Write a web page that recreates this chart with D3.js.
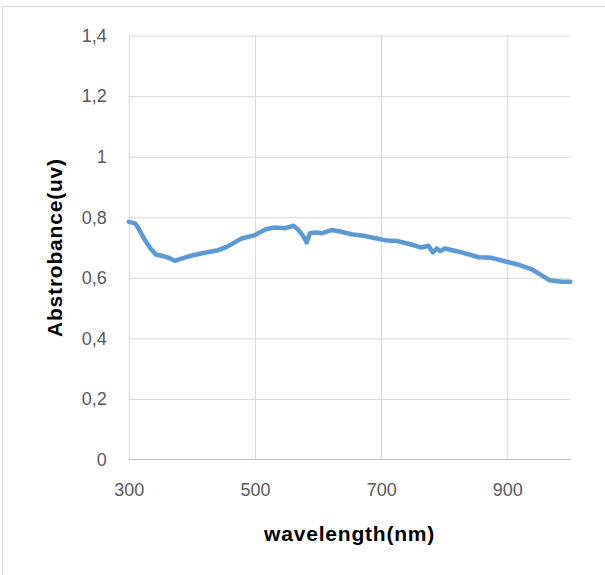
<!DOCTYPE html>
<html>
<head>
<meta charset="utf-8">
<script src="https://cdn.jsdelivr.net/npm/d3@7"></script>
<style>
  body { margin: 0; background: #fff; }
  text { font-family: "Liberation Sans", Arial, sans-serif; }
</style>
</head>
<body>
<div id="container"></div>
<script>
// spectrum
let wavelength = [300, 310, 315, 320, 327, 335, 343, 354, 365, 373, 381, 397, 418, 440, 456, 472,
  479, 500, 518, 532, 548, 561, 569, 577, 582, 587, 595, 606, 622, 637, 653,
  672, 693, 709, 725, 746, 764, 775, 782, 788, 794, 801, 820, 838,
  854, 875, 899, 917, 938, 954, 967, 986, 1000];
let absorbance = [0.785, 0.780, 0.765, 0.745, 0.720, 0.695, 0.677, 0.672, 0.665, 0.656, 0.662, 0.672, 0.682, 0.690, 0.703, 0.722,
  0.730, 0.741, 0.761, 0.766, 0.764, 0.772, 0.758, 0.736, 0.717, 0.747, 0.750, 0.747, 0.758, 0.752, 0.744,
  0.739, 0.730, 0.723, 0.722, 0.711, 0.700, 0.706, 0.684, 0.697, 0.688, 0.697, 0.688, 0.678,
  0.668, 0.666, 0.653, 0.644, 0.629, 0.609, 0.592, 0.587, 0.587];

let xTicks = [300, 500, 700, 900];
let yTicks = [0, 0.2, 0.4, 0.6, 0.8, 1, 1.2, 1.4];

let svg = d3.select("#container")
  .append("svg")
    .attr("width", 605)
    .attr("height", 575)
;

// chart frame
svg.append("rect")
  .attr("x", 2.5)
  .attr("y", 6.5)
  .attr("width", 700)
  .attr("height", 700)
  .attr("fill", "#fff")
  .attr("stroke", "#d9d9d9")
;

let plotL = 128.8, plotR = 570.4, plotT = 35.6, plotB = 459.5;

let x = d3.scaleLinear().domain([300, 1000]).range([plotL, plotR]);
let y = d3.scaleLinear().domain([0, 1.4]).range([plotB, plotT]);

// horizontal gridlines
svg.append("g")
  .attr("transform", "translate(" + plotL + ",0)")
  .call(d3.axisLeft(y).tickValues(yTicks.slice(1)).tickSize(-(plotR - plotL)).tickFormat(""))
  .call(g => g.select(".domain").remove())
  .call(g => g.selectAll("line").attr("stroke", "#d9d9d9"))
;

// vertical gridlines
svg.append("g")
  .attr("transform", "translate(0," + plotB + ")")
  .call(d3.axisBottom(x).tickValues(xTicks).tickSize(-(plotB - plotT)).tickFormat(""))
  .call(g => g.select(".domain").remove())
  .call(g => g.selectAll("line").attr("stroke", "#d9d9d9"))
;

// base line
svg.append("line")
  .attr("x1", plotL).attr("x2", plotR)
  .attr("y1", y(0)).attr("y2", y(0))
  .attr("stroke", "#bfbfbf")
;

let commaFmt = v => String(v).replace(".", ",");

svg.append("g")
  .attr("transform", "translate(" + plotL + ",0)")
  .call(d3.axisLeft(y).tickValues(yTicks).tickSize(0).tickPadding(22).tickFormat(commaFmt))
  .call(g => g.select(".domain").remove())
  .call(g => g.selectAll("text").attr("fill", "#595959").style("font-size", "18px"))
;

svg.append("g")
  .attr("transform", "translate(0," + plotB + ")")
  .call(d3.axisBottom(x).tickValues(xTicks).tickSize(0).tickPadding(24).tickFormat(d3.format("d")))
  .call(g => g.select(".domain").remove())
  .call(g => g.selectAll("text").attr("fill", "#595959").style("font-size", "18px"))
;

let line = d3.line()
  .x((d, i) => x(wavelength[i]))
  .y(d => y(d));

svg.append("path")
  .datum(absorbance)
  .attr("d", line)
  .attr("fill", "none")
  .attr("stroke", "#5b9bd5")
  .attr("stroke-width", 4.5)
  .attr("stroke-linejoin", "round")
  .attr("stroke-linecap", "round")
;

svg.append("text")
  .attr("x", (plotL + plotR) / 2)
  .attr("y", 541)
  .attr("text-anchor", "middle")
  .attr("font-weight", "bold")
  .attr("font-size", 21)
  .attr("letter-spacing", 0.8)
  .attr("fill", "#000")
  .text("wavelength(nm)")
;

svg.append("text")
  .attr("transform", "translate(62," + (plotT + plotB) / 2 + ") rotate(-90)")
  .attr("text-anchor", "middle")
  .attr("font-weight", "bold")
  .attr("font-size", 21)
  .attr("letter-spacing", 0.8)
  .attr("fill", "#000")
  .text("Abstrobance(uv)")
;
</script>
</body>
</html>
